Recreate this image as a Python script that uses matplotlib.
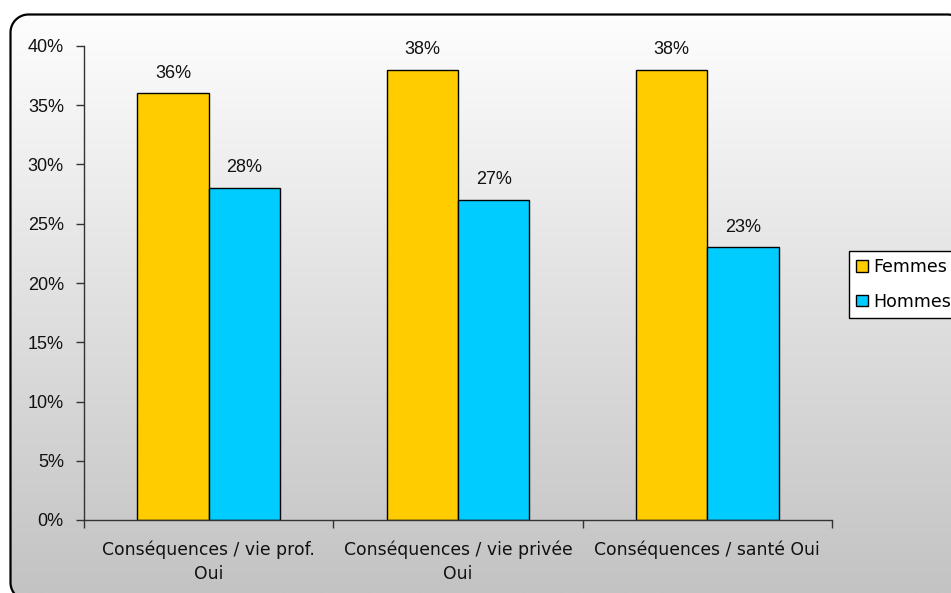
import numpy as np
import matplotlib
matplotlib.use("Agg")
import matplotlib.pyplot as plt
from matplotlib.patches import Polygon, Patch

categories = ["Conséquences / vie prof.\nOui", "Conséquences / vie privée\nOui", "Conséquences / santé Oui"]
femmes = [36, 38, 38]
hommes = [28, 27, 23]
series_names = ["Femmes", "Hommes"]
yticks = [0, 5, 10, 15, 20, 25, 30, 35, 40]

W, H = 951, 593
fig = plt.figure(figsize=(W / 100, H / 100), dpi=100)


def rounded_rect(x0, y0, x1, y1, r, n=24):
    # y grows downward (pixel-like coords)
    pts = []
    corners = [((x0 + r, y0 + r), 180, 270),   # top-left
               ((x1 - r, y0 + r), 270, 360),   # top-right
               ((x1 - r, y1 - r), 0, 90),      # bottom-right
               ((x0 + r, y1 - r), 90, 180)]    # bottom-left
    for (cx, cy), a0, a1 in corners:
        t = np.radians(np.linspace(a0, a1, n))
        pts.extend(zip(cx + r * np.cos(t), cy + r * np.sin(t)))
    return np.array(pts)


# background gradient inside rounded border
bg_ax = fig.add_axes([0, 0, 1, 1], zorder=-10)
bg_ax.set_xlim(0, W)
bg_ax.set_ylim(H, 0)
bg_ax.axis("off")
grad = np.linspace(255, 195, 256)[:, None] / 255.0
img = np.dstack([grad, grad, grad])
im = bg_ax.imshow(img, extent=[0, W, H, 0], aspect="auto", zorder=0)
verts = rounded_rect(10.5, 14.5, 965.5, 600.5, 18)
border = Polygon(verts, closed=True, facecolor="none", edgecolor="black",
                 linewidth=1.6, zorder=2)
bg_ax.add_patch(border)
clip = Polygon(verts, closed=True, facecolor="none", edgecolor="none")
bg_ax.add_patch(clip)
im.set_clip_path(clip)
bg_ax.set_xlim(0, W)
bg_ax.set_ylim(H, 0)

ax = fig.add_axes([84 / W, 1 - 520 / H, (832 - 84) / W, (520 - 46) / H])
ax.patch.set_alpha(0)

x = np.arange(len(categories))
bw = 0.2857
b1 = ax.bar(x - bw / 2, femmes, bw, color="#FFCC00", edgecolor="black", linewidth=1.0)
b2 = ax.bar(x + bw / 2, hommes, bw, color="#00CCFF", edgecolor="black", linewidth=1.0)

for bars, vals in ((b1, femmes), (b2, hommes)):
    for r, v in zip(bars, vals):
        ax.annotate(f"{v}%", (r.get_x() + r.get_width() / 2, v), xytext=(0, 8.5),
                    textcoords="offset points", ha="center", va="bottom",
                    fontsize=13, family="Liberation Sans", color="#111111")

ax.set_xlim(-0.5, 2.5)
ax.set_ylim(0, 40)
ax.set_yticks(yticks)
ax.set_yticklabels([f"{t}%" for t in yticks], family="Liberation Sans", fontsize=13, color="#111111")
ax.set_xticks([-0.5, 0.5, 1.5, 2.5])
ax.set_xticklabels([])
ax.set_xticks(x, minor=True)
ax.set_xticklabels(categories, minor=True, fontsize=12.4, family="DejaVu Sans", color="#111111",
                   linespacing=1.45)
ax.tick_params(axis="x", which="minor", length=0, pad=14.5)
ax.tick_params(axis="x", which="major", length=6, width=1, color="#333333", direction="out")
ax.tick_params(axis="y", length=6, width=1, color="#333333", direction="out", pad=8.5)
for s in ("top", "right"):
    ax.spines[s].set_visible(False)
for s in ("left", "bottom"):
    ax.spines[s].set_color("#333333")
    ax.spines[s].set_linewidth(1)

handles = [Patch(facecolor="#FFCC00", edgecolor="black"), Patch(facecolor="#00CCFF", edgecolor="black")]
leg = fig.legend(handles, series_names, loc="upper left", bbox_to_anchor=(849 / W, 1 - 251 / H),
                 frameon=True, fancybox=False, edgecolor="black", framealpha=1,
                 prop={"family": "DejaVu Sans", "size": 12.5},
                 handlelength=0.65, handleheight=0.65, handletextpad=0.35,
                 borderpad=0.42, labelspacing=0.95, borderaxespad=0)
leg.get_frame().set_linewidth(1)
leg.get_frame().set_facecolor("white")

fig.savefig("out.png", dpi=100)
